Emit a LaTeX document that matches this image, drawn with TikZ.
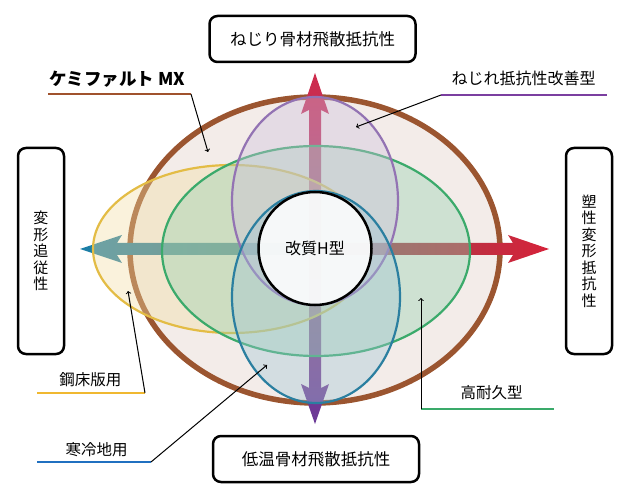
\documentclass[tikz,border=0pt]{standalone}
\usepackage{fontspec}
\setmainfont{Noto Sans CJK JP}
\usetikzlibrary{positioning}

\definecolor{ringbrown}{HTML}{9B5530}
\definecolor{ringfill}{HTML}{F3ECE9}
\definecolor{twistpurple}{HTML}{9373B3}
\definecolor{durgreen}{HTML}{3BAA6B}
\definecolor{deckyellow}{HTML}{E3BC45}
\definecolor{coldblue}{HTML}{2B7FA0}
\definecolor{arrowred}{HTML}{D6223A}
\definecolor{arrowteal}{HTML}{1B7FA8}
\definecolor{arrowdusk}{HTML}{3A6A78}
\definecolor{arrowrust}{HTML}{8E4A50}
\definecolor{arrowcrimson}{HTML}{CF2C4C}
\definecolor{arrowviolet}{HTML}{6A3A98}
\definecolor{tagbrown}{HTML}{A0522D}
\definecolor{tagpurple}{HTML}{7B3FA0}
\definecolor{tagyellow}{HTML}{F0B830}
\definecolor{tagblue}{HTML}{2070C0}
\definecolor{taggreen}{HTML}{3AAA6A}

\tikzset{
    axisbox/.style={draw, line width=2.5pt, rounded corners=8pt, fill=white,
        font=\fontsize{16.5}{18}\selectfont},
    vtext/.style={align=center, font=\fontsize{15}{16.5}\selectfont},
    tagtext/.style={anchor=base, inner sep=0pt, font=\fontsize{15.5}{17}\selectfont},
    tagline/.style={line width=1.5pt},
    pointer/.style={->, line width=1pt},
    grade/.style={line width=2.2pt, fill opacity=0.38},
}

\begin{document}
\begin{tikzpicture}[x=1pt, y=-1pt]
    \useasboundingbox (0,0) rectangle (630,500);

    % outer ring
    \fill[ringfill] (315,250) ellipse [x radius=185, y radius=153];
    \draw[ringbrown, line width=5.5pt] (315,250) ellipse [x radius=185, y radius=153];

    % axes
    \shade[left color=arrowteal, right color=arrowdusk]
        (80,249) -- (122,235) -- (117,243) -- (315.5,243) -- (315.5,255) -- (117,255) -- (122,263) -- cycle;
    \shade[left color=arrowrust, right color=arrowred]
        (315,243) -- (513,243) -- (508,235) -- (549,249) -- (508,263) -- (513,255) -- (315,255) -- cycle;
    \shade[top color=arrowcrimson, bottom color=arrowviolet]
        (315,73) -- (329,114) -- (321,110) -- (321,388) -- (329,384) -- (315,424)
        -- (301,384) -- (309,388) -- (309,110) -- (301,114) -- cycle;

    % grades
    \filldraw[grade, draw=deckyellow, fill=deckyellow!50] (232,249) ellipse [x radius=139, y radius=84];
    \filldraw[grade, draw=durgreen, fill=durgreen!55] (316,251) ellipse [x radius=154, y radius=105];
    \filldraw[grade, draw=twistpurple, fill=twistpurple!45] (315,201) ellipse [x radius=83, y radius=104];
    \filldraw[grade, draw=coldblue, fill=coldblue!45] (316,297) ellipse [x radius=84, y radius=106];

    \node[circle, draw, line width=2.5pt, fill=white, fill opacity=0.88, text opacity=1,
        minimum size=113pt, font=\fontsize{16}{18}\selectfont] (core) at (315,248.5) {改質H型};

    % boxes
    \node[axisbox, minimum width=206pt, minimum height=46pt] (ravel) at (312.5,39) {ねじり骨材飛散抵抗性};
    \node[axisbox, minimum width=206pt, minimum height=46pt] (cold) at (316,459) {低温骨材飛散抵抗性};
    \node[axisbox, minimum width=46pt, minimum height=206pt] (follow) at (41,251) {};
    \node[vtext] at (follow) {変\\形\\追\\従\\性};
    \node[axisbox, minimum width=46pt, minimum height=206pt] (rut) at (589,251) {};
    \node[vtext] at (rut) {塑\\性\\変\\形\\抵\\抗\\性};

    % callouts
    \node[tagtext, font=\fontsize{17.5}{19}\selectfont\bfseries] (mx) at (117.5,86) {ケミファルト MX};
    \coordinate (mxL) at (48,94);
    \coordinate (mxR) at (191,94);
    \coordinate (mxT) at (208,152);
    \draw[tagline, tagbrown] (mxL) -- (mxR);
    \draw[pointer] (mxR) -- (mxT);

    \node[tagtext, font=\fontsize{16}{18}\selectfont] (twist) at (523.5,85) {ねじれ抵抗性改善型};
    \coordinate (twistL) at (441,95);
    \coordinate (twistR) at (607,95);
    \coordinate (twistT) at (356,127);
    \draw[tagline, tagpurple] (twistL) -- (twistR);
    \draw[pointer] (twistL) -- (twistT);

    \node[tagtext] (deck) at (90.5,385) {鋼床版用};
    \coordinate (deckL) at (37,393);
    \coordinate (deckR) at (145,393);
    \coordinate (deckT) at (128,291);
    \draw[tagline, tagyellow] (deckL) -- (deckR);
    \draw[pointer] (deckR) -- (deckT);

    \node[tagtext] (frost) at (96.5,455) {寒冷地用};
    \coordinate (frostL) at (37,462);
    \coordinate (frostR) at (151,462);
    \coordinate (frostT) at (267,365);
    \draw[tagline, tagblue] (frostL) -- (frostR);
    \draw[pointer] (frostR) -- (frostT);

    \node[tagtext] (dur) at (491.5,398) {高耐久型};
    \coordinate (durL) at (421,409);
    \coordinate (durR) at (554,409);
    \coordinate (durT) at (421,298);
    \draw[tagline, taggreen] (durL) -- (durR);
    \draw[pointer] (durL) -- (durT);
\end{tikzpicture}
\end{document}
